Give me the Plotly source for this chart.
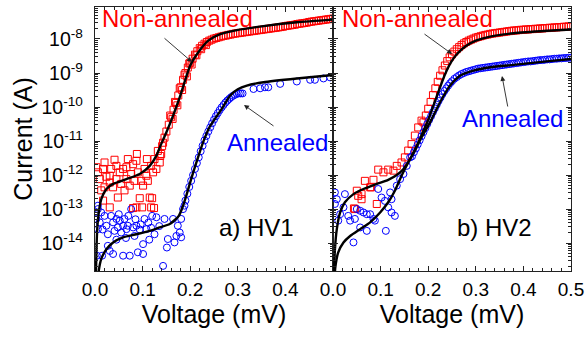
import plotly.graph_objects as go

FONT = "Liberation Sans, Arial, sans-serif"
RED = "#ff0000"
BLUE = "#0000ff"

# ---------------- data: (voltage in mV, log10 of current in A) ----------------
# Panel a) HV1, non-annealed measured points
hv1_na_pts = [
    (0.003, -11.77), (0.006, -11.92), (0.010, -12.12), (0.013, -12.45), (0.017, -11.82),
    (0.017, -12.75), (0.020, -11.63), (0.020, -12.36), (0.024, -12.05), (0.031, -12.02),
    (0.031, -12.22), (0.031, -12.95), (0.034, -11.82), (0.038, -12.36), (0.041, -11.55),
    (0.045, -11.73), (0.045, -12.12), (0.048, -12.66), (0.052, -11.92), (0.055, -12.26),
    (0.059, -11.82), (0.062, -12.45), (0.066, -12.12), (0.066, -11.77), (0.069, -11.53),
    (0.073, -12.31), (0.076, -11.97), (0.080, -11.68), (0.080, -12.97), (0.083, -12.17),
    (0.087, -11.58), (0.087, -12.95), (0.088, -11.38), (0.090, -11.92), (0.094, -12.68),
    (0.097, -12.17), (0.099, -12.95), (0.101, -12.31), (0.104, -11.82), (0.108, -12.02),
    (0.109, -11.53), (0.111, -12.17), (0.115, -12.66), (0.118, -11.73), (0.118, -12.95),
    (0.120, -12.68), (0.122, -11.92), (0.124, -12.97), (0.125, -11.53), (0.129, -11.82),
    (0.132, -11.29), (0.136, -11.63), (0.137, -11.44), (0.139, -11.38), (0.141, -11.15),
    (0.143, -11.05), (0.146, -10.90),
    (0.150, -10.72), (0.155, -10.52), (0.160, -10.30), (0.165, -10.08), (0.170, -9.88),
    (0.175, -9.66), (0.180, -9.42), (0.185, -9.20), (0.190, -9.00), (0.195, -8.84),
    (0.200, -8.70), (0.205, -8.58), (0.210, -8.46), (0.215, -8.36), (0.220, -8.27),
    (0.225, -8.20), (0.230, -8.14), (0.235, -8.09), (0.240, -8.05), (0.245, -8.02),
    (0.250, -7.99), (0.255, -7.97), (0.260, -7.95), (0.265, -7.93), (0.270, -7.91),
    (0.275, -7.90), (0.280, -7.88), (0.285, -7.87), (0.290, -7.85), (0.295, -7.84),
    (0.300, -7.83), (0.305, -7.82), (0.310, -7.81), (0.315, -7.80), (0.320, -7.79),
    (0.325, -7.78), (0.330, -7.77), (0.335, -7.76), (0.340, -7.75), (0.345, -7.74),
    (0.350, -7.73), (0.355, -7.72), (0.360, -7.71), (0.365, -7.70), (0.370, -7.69),
    (0.375, -7.68), (0.380, -7.67), (0.385, -7.66), (0.390, -7.65), (0.395, -7.64),
    (0.400, -7.62), (0.405, -7.61), (0.410, -7.60), (0.415, -7.59), (0.420, -7.58),
    (0.425, -7.56), (0.430, -7.55), (0.435, -7.54), (0.440, -7.53), (0.445, -7.52),
    (0.450, -7.50), (0.455, -7.49), (0.460, -7.48), (0.465, -7.47), (0.470, -7.46),
    (0.475, -7.45), (0.480, -7.44), (0.485, -7.43), (0.490, -7.42), (0.495, -7.41),
    (0.500, -7.40),
    (0.158, -10.25), (0.168, -9.85), (0.178, -9.45), (0.188, -9.05), (0.198, -8.72),
    (0.163, -10.35), (0.173, -9.95), (0.183, -9.50), (0.193, -9.10),
    (0.203, -8.75), (0.213, -8.48), (0.223, -8.30), (0.233, -8.18),
]

# Panel a) HV1, annealed measured points
hv1_an_pts = [
    (0.003, -13.29), (0.006, -13.00), (0.006, -13.59), (0.006, -12.90), (0.010, -13.39),
    (0.004, -14.37), (0.013, -13.10), (0.015, -14.37), (0.016, -13.60), (0.020, -13.20),
    (0.024, -13.49), (0.027, -13.74), (0.027, -14.08), (0.031, -14.23), (0.034, -13.20),
    (0.038, -13.39), (0.038, -14.32), (0.041, -13.64), (0.045, -13.29), (0.045, -13.90),
    (0.048, -13.54), (0.050, -13.15), (0.052, -13.34), (0.055, -13.69), (0.059, -13.49),
    (0.059, -14.37), (0.062, -13.29), (0.065, -13.85), (0.066, -13.59), (0.069, -13.49),
    (0.070, -13.20), (0.073, -14.37), (0.076, -13.00), (0.080, -13.54), (0.083, -13.79),
    (0.085, -13.30), (0.087, -13.49), (0.090, -14.27), (0.094, -13.60), (0.096, -13.45),
    (0.101, -14.03), (0.101, -14.32), (0.104, -13.29), (0.108, -13.59), (0.112, -13.40),
    (0.114, -13.90), (0.118, -13.55), (0.120, -13.20), (0.125, -13.74), (0.129, -13.24),
    (0.135, -13.50), (0.143, -14.67), (0.146, -13.29), (0.151, -14.13), (0.153, -13.88),
    (0.164, -13.29), (0.167, -13.98), (0.171, -13.79), (0.174, -13.49), (0.178, -13.69),
    (0.181, -13.83), (0.181, -13.29), (0.185, -13.00), (0.188, -12.90),
    (0.190, -12.75), (0.194, -12.55), (0.198, -12.35), (0.202, -12.17), (0.206, -12.00),
    (0.210, -11.82), (0.214, -11.65), (0.218, -11.48), (0.222, -11.30), (0.226, -11.14),
    (0.230, -10.98), (0.234, -10.85), (0.238, -10.72), (0.242, -10.60), (0.246, -10.48),
    (0.250, -10.37), (0.254, -10.27), (0.258, -10.18), (0.262, -10.09), (0.266, -10.01),
    (0.270, -9.94), (0.274, -9.87), (0.278, -9.81), (0.282, -9.76), (0.286, -9.71),
    (0.290, -9.67), (0.294, -9.64), (0.298, -9.61), (0.302, -9.60), (0.306, -9.60),
    (0.310, -9.60),
    (0.333, -9.47), (0.347, -9.45), (0.357, -9.42), (0.364, -9.42), (0.389, -9.32),
    (0.424, -9.25), (0.452, -9.20), (0.462, -9.20), (0.480, -9.16), (0.494, -9.13),
]

# Panel a) HV1 fitted curves
hv1_na_fit = [
    (0.0015, -15.2), (0.004, -13.8), (0.0063, -13.29), (0.0132, -12.71), (0.024, -12.41),
    (0.038, -12.26), (0.066, -12.12), (0.094, -11.97), (0.115, -11.73), (0.129, -11.43),
    (0.139, -11.09), (0.150, -10.74), (0.160, -10.40), (0.179, -9.67), (0.200, -8.78),
    (0.217, -8.39), (0.238, -8.05), (0.263, -7.86), (0.298, -7.74), (0.350, -7.63),
    (0.424, -7.51), (0.500, -7.43),
]
hv1_an_fit = [
    (0.005, -15.2), (0.008, -14.8), (0.013, -14.47), (0.024, -14.18), (0.038, -13.98),
    (0.059, -13.83), (0.087, -13.74), (0.115, -13.64), (0.136, -13.54), (0.157, -13.44),
    (0.176, -13.20), (0.185, -12.90), (0.192, -12.60), (0.202, -12.12), (0.213, -11.63),
    (0.227, -11.04), (0.241, -10.58), (0.266, -10.06), (0.284, -9.66), (0.300, -9.48),
    (0.319, -9.37), (0.354, -9.27), (0.424, -9.16), (0.500, -9.06),
]

# Panel b) HV2, non-annealed measured points
hv2_na_pts = [
    (0.044, -12.98), (0.046, -13.00), (0.050, -12.46), (0.053, -12.61), (0.060, -12.71),
    (0.060, -12.56), (0.067, -12.17), (0.078, -12.36), (0.080, -12.36), (0.085, -12.14),
    (0.092, -12.85), (0.095, -11.84), (0.106, -11.92), (0.116, -11.84), (0.127, -11.87),
    (0.134, -11.73), (0.144, -11.63), (0.151, -11.48), (0.158, -11.28), (0.165, -11.09),
    (0.172, -10.84), (0.179, -10.60), (0.186, -10.40),
    (0.190, -10.45), (0.195, -10.25), (0.200, -10.05), (0.205, -9.85), (0.210, -9.65),
    (0.215, -9.45), (0.220, -9.26), (0.225, -9.08), (0.230, -8.92), (0.235, -8.78),
    (0.240, -8.65), (0.245, -8.54), (0.250, -8.45), (0.255, -8.37), (0.260, -8.30),
    (0.265, -8.24), (0.270, -8.18), (0.275, -8.13), (0.280, -8.09), (0.285, -8.05),
    (0.290, -8.02), (0.295, -7.99), (0.300, -7.96), (0.305, -7.94), (0.310, -7.92),
    (0.315, -7.90), (0.320, -7.88), (0.325, -7.87), (0.330, -7.85), (0.335, -7.84),
    (0.340, -7.83), (0.345, -7.82), (0.350, -7.81), (0.355, -7.80), (0.360, -7.79),
    (0.365, -7.78), (0.370, -7.77), (0.375, -7.76), (0.380, -7.75), (0.385, -7.75),
    (0.390, -7.74), (0.395, -7.73), (0.400, -7.73), (0.405, -7.72), (0.410, -7.72),
    (0.415, -7.71), (0.420, -7.71), (0.425, -7.70), (0.430, -7.70), (0.435, -7.69),
    (0.440, -7.69), (0.445, -7.68), (0.450, -7.68), (0.455, -7.67), (0.460, -7.67),
    (0.465, -7.66), (0.470, -7.66), (0.475, -7.65), (0.480, -7.65), (0.485, -7.64),
    (0.490, -7.64), (0.495, -7.63), (0.500, -7.63),
]

# Panel b) HV2, annealed measured points
hv2_an_pts = [
    (0.004, -12.85), (0.004, -12.51), (0.008, -12.71), (0.011, -13.34), (0.015, -13.15),
    (0.022, -12.95), (0.025, -12.56), (0.032, -13.20), (0.036, -13.34), (0.043, -13.98),
    (0.046, -13.29), (0.050, -13.00), (0.057, -13.05), (0.057, -13.54), (0.064, -13.10),
    (0.071, -13.15), (0.071, -13.64), (0.078, -13.15), (0.085, -13.29), (0.088, -13.34),
    (0.095, -12.41), (0.102, -12.66), (0.109, -12.76), (0.111, -13.64), (0.116, -12.95),
    (0.120, -12.51), (0.123, -13.10), (0.123, -12.71), (0.130, -13.20), (0.134, -12.31),
    (0.141, -12.12), (0.148, -11.97), (0.155, -11.73), (0.162, -11.48),
    (0.166, -11.45), (0.170, -11.33), (0.174, -11.22), (0.178, -11.10), (0.182, -10.98),
    (0.186, -10.86), (0.190, -10.74), (0.194, -10.62), (0.198, -10.50), (0.202, -10.38),
    (0.206, -10.27), (0.210, -10.15), (0.214, -10.04), (0.218, -9.93), (0.222, -9.82),
    (0.226, -9.72), (0.230, -9.62), (0.234, -9.53), (0.238, -9.45), (0.242, -9.37),
    (0.246, -9.30), (0.250, -9.24), (0.255, -9.17), (0.260, -9.12), (0.265, -9.07),
    (0.270, -9.03), (0.275, -9.00), (0.280, -8.97), (0.285, -8.95), (0.290, -8.93),
    (0.295, -8.91), (0.300, -8.89), (0.305, -8.87), (0.310, -8.86), (0.315, -8.85),
    (0.320, -8.84), (0.325, -8.83), (0.330, -8.82), (0.335, -8.81), (0.340, -8.80),
    (0.345, -8.79), (0.350, -8.78), (0.355, -8.77), (0.360, -8.76), (0.365, -8.75),
    (0.370, -8.74), (0.375, -8.73), (0.380, -8.72), (0.385, -8.71), (0.390, -8.70),
    (0.395, -8.69), (0.400, -8.68), (0.405, -8.67), (0.410, -8.66), (0.415, -8.66),
    (0.420, -8.65), (0.425, -8.64), (0.430, -8.63), (0.435, -8.62), (0.440, -8.62),
    (0.445, -8.61), (0.450, -8.60), (0.455, -8.60), (0.460, -8.59), (0.465, -8.58),
    (0.470, -8.58), (0.475, -8.57), (0.480, -8.57), (0.485, -8.56), (0.490, -8.56),
    (0.495, -8.55), (0.500, -8.55),
]

# Panel b) HV2 fitted curves
hv2_na_fit = [
    (0.001, -15.3), (0.004, -14.2), (0.008, -13.59), (0.015, -13.10), (0.025, -12.80),
    (0.043, -12.56), (0.064, -12.41), (0.092, -12.26), (0.116, -12.14), (0.134, -12.00),
    (0.148, -11.82), (0.162, -11.53), (0.176, -11.14), (0.190, -10.70), (0.200, -10.38),
    (0.214, -9.84), (0.235, -9.05), (0.249, -8.66), (0.262, -8.42), (0.280, -8.20),
    (0.300, -8.05), (0.330, -7.93), (0.380, -7.83), (0.450, -7.76), (0.500, -7.72),
]
hv2_an_fit = [
    (0.002, -15.3), (0.005, -14.7), (0.011, -14.27), (0.022, -13.98), (0.036, -13.79),
    (0.057, -13.59), (0.078, -13.39), (0.099, -13.10), (0.116, -12.80), (0.130, -12.46),
    (0.144, -12.02), (0.158, -11.63), (0.172, -11.28), (0.186, -10.89), (0.204, -10.45),
    (0.225, -9.86), (0.246, -9.37), (0.267, -9.08), (0.295, -8.93), (0.330, -8.83),
    (0.379, -8.76), (0.449, -8.66), (0.500, -8.59),
]

x_tick_vals = [0.0, 0.1, 0.2, 0.3, 0.4, 0.5]
y_tick_exps = [-14, -13, -12, -11, -10, -9, -8]
y_range_log = [-14.82, -7.06]

# ---------------- figure ----------------
def xy(pts):
    return [p[0] for p in pts], [10 ** p[1] for p in pts]

fig = go.Figure()

def add_points(pts, sym, color, xa, ya):
    x, y = xy(pts)
    fig.add_trace(go.Scatter(x=x, y=y, mode="markers", xaxis=xa, yaxis=ya,
                             marker=dict(symbol=sym, size=7, color=color,
                                         line=dict(width=1, color=color))))

def add_fit(pts, xa, ya):
    x, y = xy(pts)
    fig.add_trace(go.Scatter(x=x, y=y, mode="lines", xaxis=xa, yaxis=ya,
                             line=dict(color="black", width=2.4, shape="spline", smoothing=0.6)))

add_points(hv1_na_pts, "square-open", RED, "x", "y")
add_points(hv1_an_pts, "circle-open", BLUE, "x", "y")
add_fit(hv1_na_fit, "x", "y")
add_fit(hv1_an_fit, "x", "y")
add_points(hv2_na_pts, "square-open", RED, "x2", "y2")
add_points(hv2_an_pts, "circle-open", BLUE, "x2", "y2")
add_fit(hv2_na_fit, "x2", "y2")
add_fit(hv2_an_fit, "x2", "y2")

axis_line = dict(showline=True, linecolor="#222", linewidth=1.4, mirror="ticks",
                 ticks="inside", ticklen=5, tickwidth=1.2, tickcolor="#222",
                 showgrid=False, zeroline=False, automargin=False)
title_font = dict(family=FONT, size=25, color="black")

xcommon = dict(axis_line, range=[0, 0.5], tickvals=x_tick_vals, tickformat=".1f",
               tickfont=dict(family=FONT, size=19, color="black"), ticklabelstandoff=1,
               minor=dict(ticks="inside", ticklen=3, dtick=0.02, tick0=0, tickcolor="#222",
                          showgrid=False),
               title=dict(text="Voltage (mV)", font=title_font, standoff=3))
ycommon = dict(axis_line, type="log", range=y_range_log,
               tickvals=[10.0 ** e for e in y_tick_exps],
               ticktext=["10<sup>-%d</sup>" % (-e) for e in y_tick_exps],
               tickfont=dict(family=FONT, size=19.5, color="black"),
               minor=dict(ticks="inside", ticklen=3, dtick="D1", tickcolor="#222",
                          showgrid=False))

fig.update_layout(
    width=586, height=337,
    margin=dict(l=95, r=15, t=7, b=66),
    paper_bgcolor="white", plot_bgcolor="white",
    showlegend=False,
    xaxis=dict(xcommon, domain=[0, 0.5], anchor="y", labelalias={"0.5": " "}),
    xaxis2=dict(xcommon, domain=[0.5, 1], anchor="y2"),
    yaxis=dict(ycommon, domain=[0, 1], anchor="x", ticklabelstandoff=7,
               title=dict(text="Current (A)", font=title_font, standoff=1)),
    yaxis2=dict(ycommon, domain=[0, 1], anchor="x2", matches="y", showticklabels=False),
)

# ---------------- annotations (pixel positions converted to paper fractions) ----------------
PL, PT, PW, PH = 95, 7, 476, 264
def px(x):
    return (x - PL) / PW
def py(y):
    return (PT + PH - y) / PH

labels = [
    ("Non-annealed", 100, 19, RED),
    ("Non-annealed", 340, 19, RED),
    ("Annealed", 225, 142, BLUE),
    ("Annealed", 460, 119, BLUE),
    ("a) HV1", 217, 227, "black"),
    ("b) HV2", 455, 227, "black"),
]
for text, x, y, c in labels:
    fig.add_annotation(text=text, x=px(x), y=py(y), xref="paper", yref="paper",
                       xanchor="left", yanchor="middle", showarrow=False,
                       font=dict(family=FONT, size=24, color=c))

arrows = [  # head (x, y), tail (x, y) in pixels
    ((192, 62), (163, 37)),
    ((244, 105), (275, 127)),
    ((452, 54), (423, 33)),
    ((502, 76), (508, 108)),
]
for (hx, hy), (tx, ty) in arrows:
    fig.add_annotation(text="", x=px(hx), y=py(hy), xref="paper", yref="paper",
                       ax=tx - hx, ay=ty - hy, showarrow=True, arrowhead=2,
                       arrowsize=1.1, arrowwidth=0.9, arrowcolor="#222", standoff=0)

fig.write_html("out.html", config={"displayModeBar": False},
               post_script="document.body.style.margin='0px';")
